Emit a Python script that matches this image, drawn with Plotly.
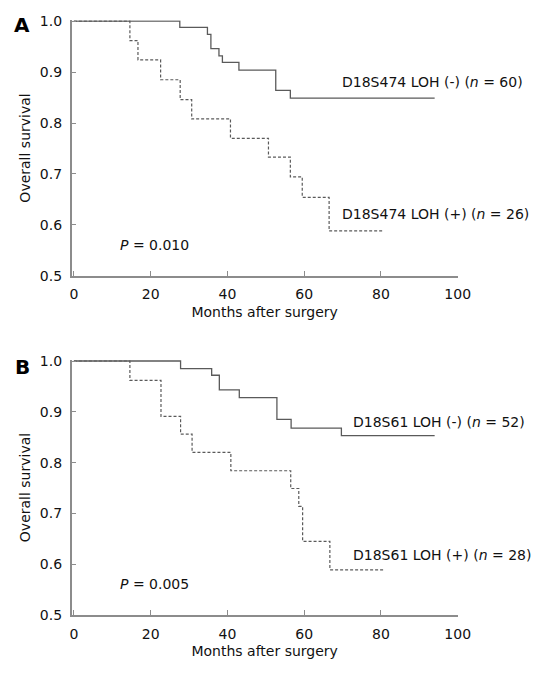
import plotly.graph_objects as go

# Panel A: D18S474
a_neg_t = [0, 27.6, 34.8, 35.7, 37.8, 38.7, 43.0, 52.6, 56.4, 94.0]
a_neg_s = [1.0, 0.988, 0.974, 0.946, 0.932, 0.919, 0.904, 0.864, 0.849, 0.849]
a_pos_t = [0, 14.6, 16.7, 22.6, 27.7, 30.7, 40.8, 50.7, 56.4, 59.5, 66.5, 80.8]
a_pos_s = [1.0, 0.962, 0.924, 0.885, 0.846, 0.808, 0.770, 0.733, 0.694, 0.654, 0.588, 0.588]

# Panel B: D18S61
b_neg_t = [0, 27.8, 35.9, 37.9, 43.1, 52.9, 56.6, 69.7, 94.0]
b_neg_s = [1.0, 0.985, 0.972, 0.943, 0.928, 0.885, 0.868, 0.853, 0.853]
b_pos_t = [0, 14.6, 22.7, 27.8, 30.8, 40.9, 56.5, 58.6, 59.6, 66.7, 81.0]
b_pos_s = [1.0, 0.962, 0.891, 0.856, 0.820, 0.784, 0.749, 0.714, 0.645, 0.589, 0.589]

x_ticks = [0, 20, 40, 60, 80, 100]
y_ticks = [0.5, 0.6, 0.7, 0.8, 0.9, 1.0]
y_tick_text = ["0.5", "0.6", "0.7", "0.8", "0.9", "1.0"]

FONT = "DejaVu Sans"
LINE_COL = "#5a5a5a"
AXIS_COL = "#8c8c8c"
TXT_COL = "#111111"

fig = go.Figure()

fig.add_trace(go.Scatter(x=a_neg_t, y=a_neg_s, mode="lines", line_shape="hv",
                         line=dict(color=LINE_COL, width=1.3), xaxis="x", yaxis="y"))
fig.add_trace(go.Scatter(x=a_pos_t, y=a_pos_s, mode="lines", line_shape="hv",
                         line=dict(color=LINE_COL, width=1.2, dash="3px,2px"), xaxis="x", yaxis="y"))
fig.add_trace(go.Scatter(x=b_neg_t, y=b_neg_s, mode="lines", line_shape="hv",
                         line=dict(color=LINE_COL, width=1.3), xaxis="x2", yaxis="y2"))
fig.add_trace(go.Scatter(x=b_pos_t, y=b_pos_s, mode="lines", line_shape="hv",
                         line=dict(color=LINE_COL, width=1.2, dash="3px,2px"), xaxis="x2", yaxis="y2"))

xaxis_common = dict(range=[-0.57, 100], tickvals=x_ticks, ticks="inside", ticklen=5,
                    tickcolor=AXIS_COL, showline=True, linecolor=AXIS_COL, linewidth=1.5,
                    showgrid=False, zeroline=False, domain=[0.1325, 0.846], automargin=False,
                    ticklabelstandoff=5,
                    tickfont=dict(family=FONT, size=14, color=TXT_COL),
                    title=dict(text="Months after surgery", font=dict(family=FONT, size=14, color=TXT_COL),
                               standoff=6))
yaxis_common = dict(range=[0.5, 1.002], tickvals=y_ticks, ticktext=y_tick_text, ticks="inside",
                    ticklen=5, tickcolor=AXIS_COL, showline=True, linecolor=AXIS_COL, linewidth=1.5,
                    showgrid=False, zeroline=False, automargin=False, ticklabelstandoff=5,
                    tickfont=dict(family=FONT, size=14, color=TXT_COL),
                    title=dict(text="Overall survival", font=dict(family=FONT, size=14, color=TXT_COL),
                               standoff=6))

fig.update_layout(
    width=541, height=673,
    margin=dict(l=0, r=0, t=0, b=0),
    paper_bgcolor="white", plot_bgcolor="white",
    showlegend=False,
    xaxis=dict(**xaxis_common, anchor="y"),
    yaxis=dict(**yaxis_common, domain=[0.5903, 0.970], anchor="x"),
    xaxis2=dict(**xaxis_common, anchor="y2"),
    yaxis2=dict(**yaxis_common, domain=[0.0862, 0.4651], anchor="x2"),
)

ann_font = dict(family=FONT, size=14, color=TXT_COL)
anns = [
    dict(x=69.3, y=0.881, xref="x", yref="y", text="D18S474 LOH (-) (<i>n</i> = 60)"),
    dict(x=69.3, y=0.622, xref="x", yref="y", text="D18S474 LOH (+) (<i>n</i> = 26)"),
    dict(x=11.6, y=0.561, xref="x", yref="y", text="<i>P</i> = 0.010"),
    dict(x=72.1, y=0.880, xref="x2", yref="y2", text="D18S61 LOH (-) (<i>n</i> = 52)"),
    dict(x=72.1, y=0.618, xref="x2", yref="y2", text="D18S61 LOH (+) (<i>n</i> = 28)"),
    dict(x=11.6, y=0.561, xref="x2", yref="y2", text="<i>P</i> = 0.005"),
]
for a in anns:
    fig.add_annotation(**a, xanchor="left", yanchor="middle", showarrow=False, font=ann_font)

for lbl, yp in [("A", 1 - 25.5 / 673), ("B", 1 - 367.5 / 673)]:
    fig.add_annotation(x=22 / 541, y=yp, xref="paper", yref="paper", text="<b>" + lbl + "</b>",
                       showarrow=False, xanchor="center", yanchor="middle",
                       font=dict(family=FONT, size=20, color="black"))

fig.write_html("out.html", config={"displayModeBar": False},
               post_script="document.body.style.margin='0';")
